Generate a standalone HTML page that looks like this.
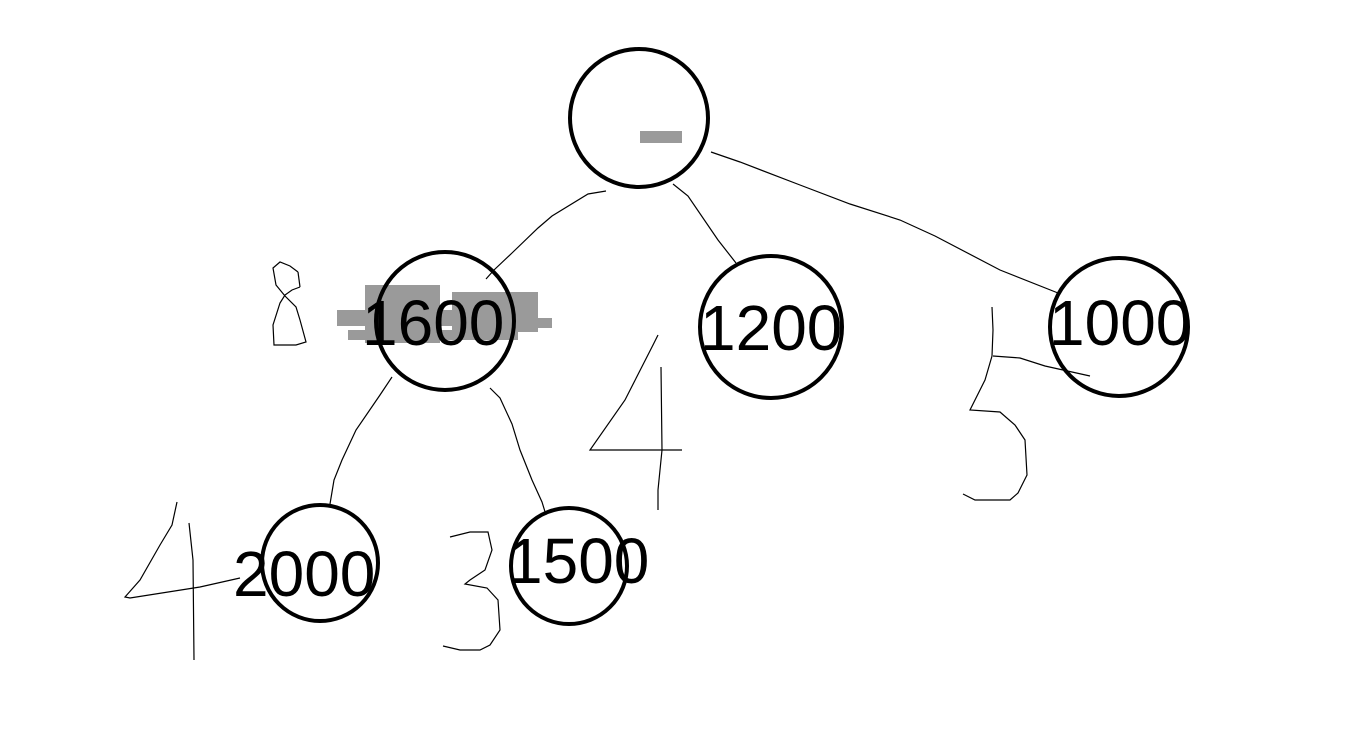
<!DOCTYPE html>
<html><head><meta charset="utf-8"><style>
html,body{margin:0;padding:0;background:#fff;width:1371px;height:741px;overflow:hidden}
svg{display:block}
text{font-family:"Liberation Sans",sans-serif;font-size:64px;fill:#000}
</style></head><body>
<svg width="1371" height="741" viewBox="0 0 1371 741">
<g fill="none" stroke="#000" stroke-width="1.2">
<path d="M606,191 L588,194 L552,216 L538,228 L512,253 L494,270 L486,279"/>
<path d="M673,184 L688,196 L718,240 L736,263"/>
<path d="M711,152 L740,162 L800,185 L850,204 L900,220 L935,236 L1000,270 L1058,293"/>
<path d="M392,377 L380,395 L356,430 L342,460 L334,480 L330,504"/>
<path d="M490,388 L500,398 L512,424 L520,450 L532,480 L542,502 L546,515"/>
<!-- 8 -->
<path d="M298,272 L290,266 L280,262 L273,268 L276,285 L285,296 L296,307 L300,320 L306,342 L296,345 L274,345 L273,325 L280,303 L285,295 L292,290 L300,287"/>
<path d="M298,272 L300,287"/>
<path d="M658,335 L653,345 L625,400 L590,450 L682,450"/>
<path d="M661,367 L662,450 L658,490 L658,510"/>
<path d="M992,307 L993,330 L992,356 L985,380 L970,410 L1000,412 L1015,425 L1025,440 L1027,475 L1018,493 L1010,500 L975,500 L963,494"/>
<path d="M993,356 L1020,358 L1045,366 L1090,376"/>
<path d="M177,502 L172,525 L160,545 L140,580 L125,597 L130,598 L200,587 L240,578"/>
<path d="M189,523 L193,560 L194,660"/>
<path d="M450,537 L470,532 L488,532 L492,550 L485,570 L470,580 L465,584 L487,588 L498,600 L500,630 L490,645 L480,650 L460,650 L443,646"/>
</g>
<g fill="#9a9a9a">
<rect x="365" y="285" width="75" height="58"/>
<rect x="337" y="310" width="185" height="16"/>
<rect x="348" y="330" width="170" height="10"/>
<rect x="452" y="292" width="86" height="40"/>
<rect x="500" y="318" width="52" height="10"/>
<rect x="640" y="131" width="42" height="12"/>
</g>
<text x="362" y="345">1600</text>
<text x="700" y="350">1200</text>
<text x="1049" y="345">1000</text>
<text x="233" y="596">2000</text>
<text x="507" y="583">1500</text>
<g fill="none" stroke="#000" stroke-width="4">
<circle cx="639" cy="118" r="69"/>
<circle cx="445" cy="321" r="69"/>
<circle cx="771" cy="327" r="71"/>
<circle cx="1119" cy="327" r="69"/>
<circle cx="320" cy="563" r="58"/>
<circle cx="569" cy="566" r="58"/>
</g>
</svg>
</body></html>
